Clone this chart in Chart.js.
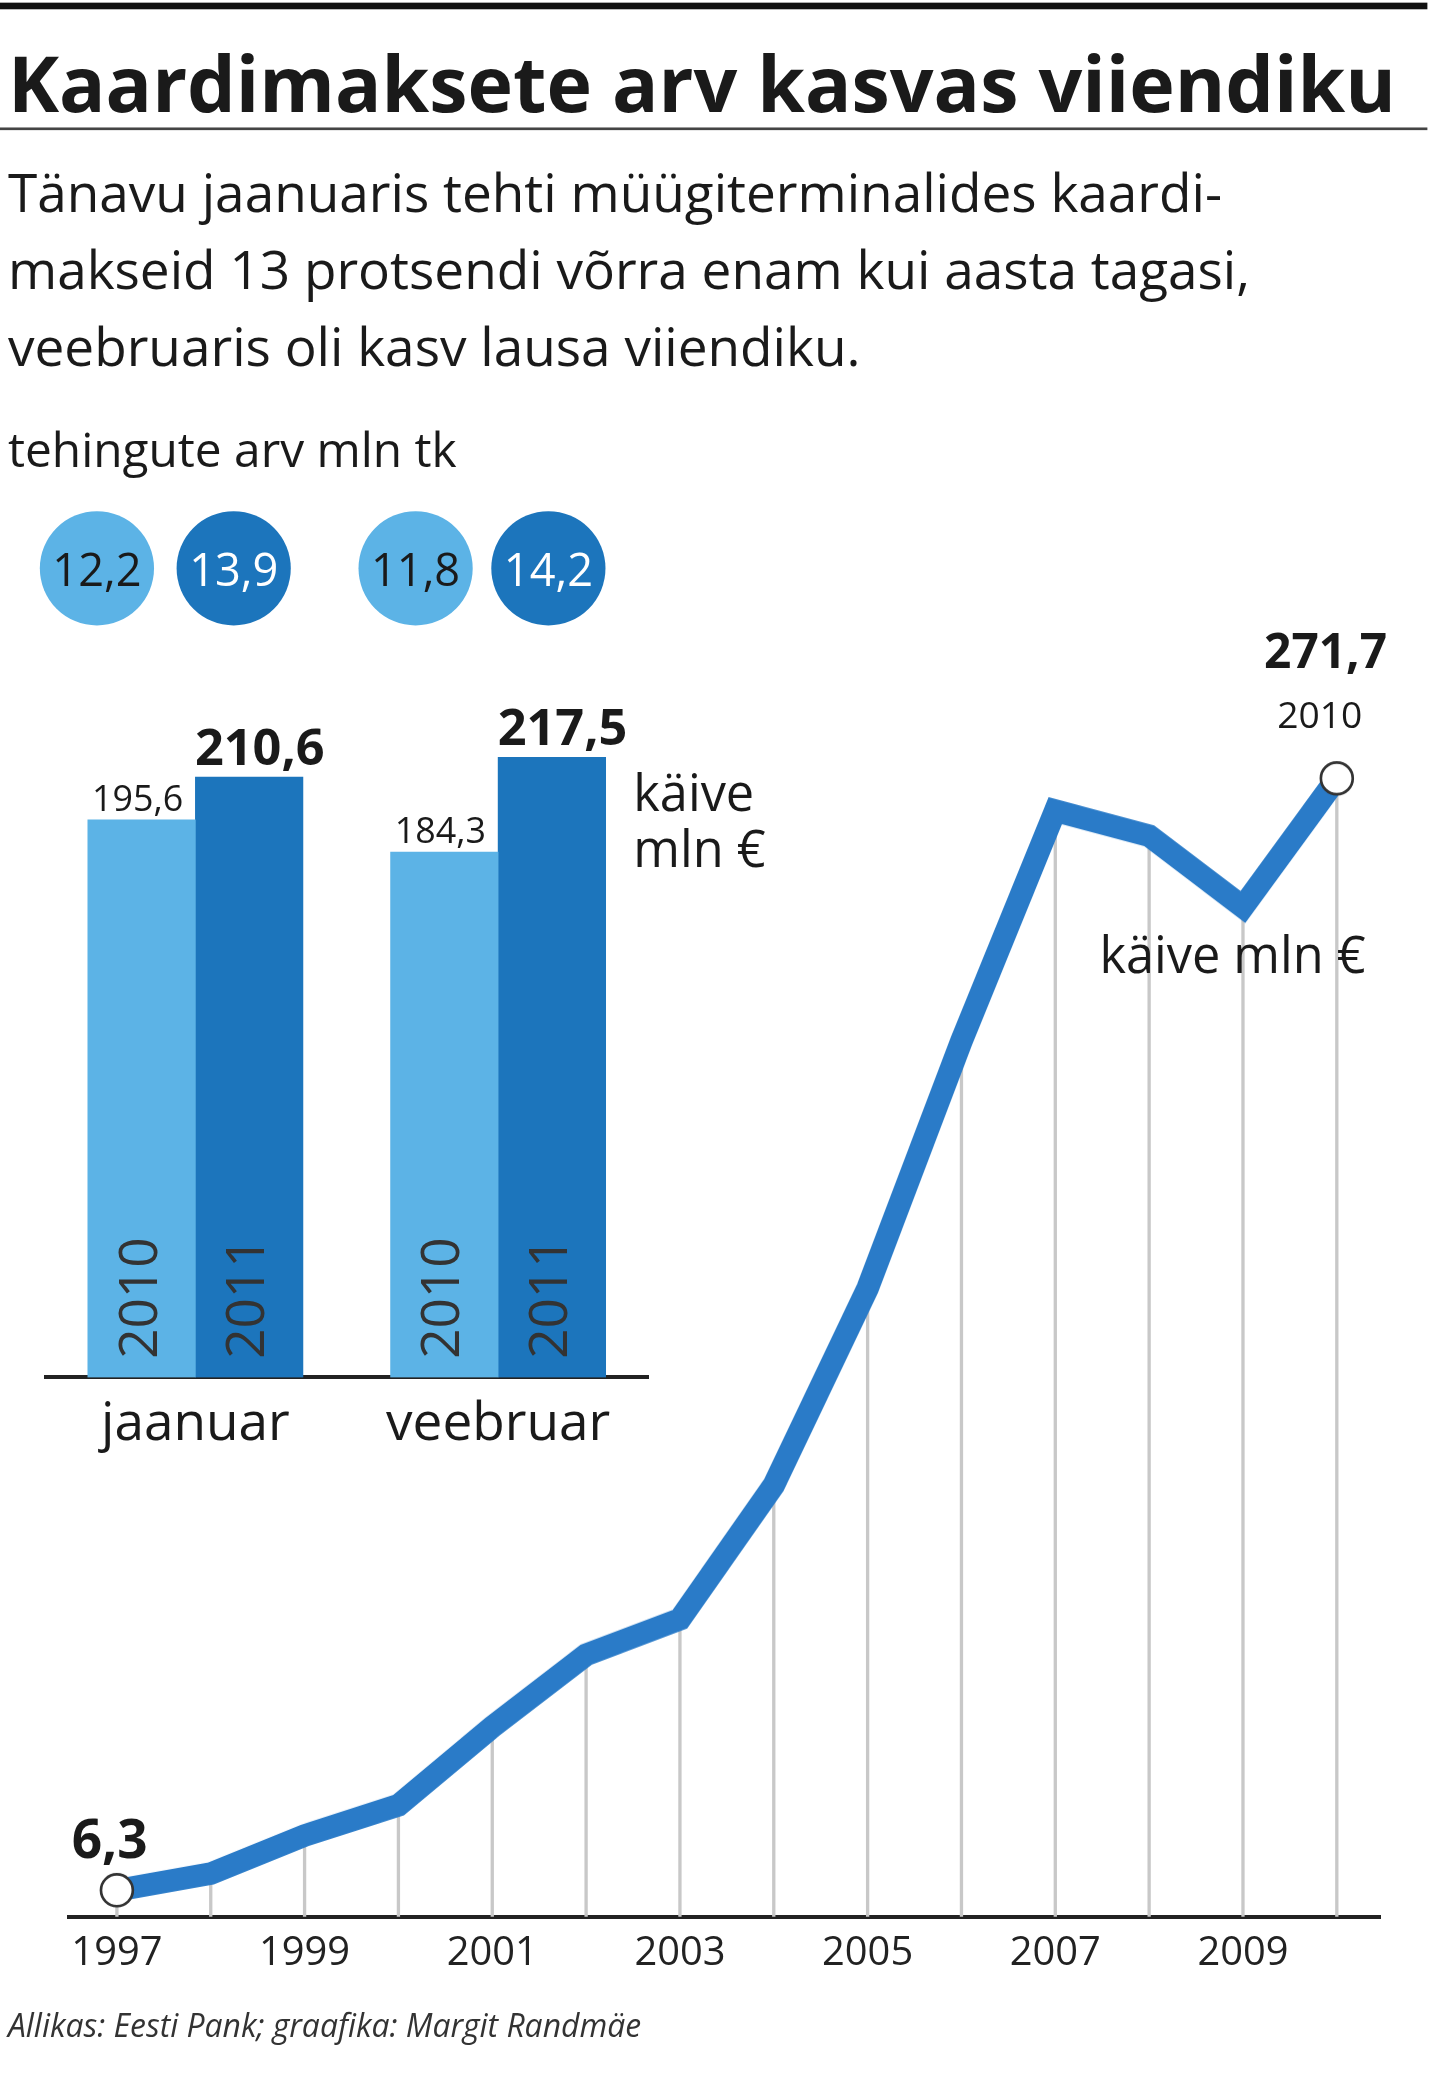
<!DOCTYPE html>
<html><head><meta charset="utf-8">
<script src="https://cdn.jsdelivr.net/npm/chart.js@4"></script>
<style>
  body { margin:0; background:#fff; position:relative; width:1442px; height:2083px; overflow:hidden; }
  #wrap { position:absolute; left:0; top:0; width:1086px; height:1569px; transform:scale(1.3278); transform-origin:0 0;
          font-family:"Liberation Sans Narrow","Open Sans",sans-serif; color:#1a1a1a; }
  .t { position:absolute; white-space:nowrap; }
  .c { position:absolute; border-radius:50%; width:86px; height:86px; display:flex; align-items:center;
       justify-content:center; font-size:34px; }
  .box { position:absolute; }
</style></head>
<body>
<div class="box" id="lineBox"><canvas id="lineChart"></canvas></div>
<div class="box" id="barBox"><canvas id="barChart"></canvas></div>
<div id="wrap">
  <div style="position:absolute;left:0;top:2px;width:1075px;height:5px;background:#111"></div>
  <div class="t" style="left:6px;top:22px;font-size:58px;font-weight:bold;">Kaardimaksete arv kasvas viiendiku</div>
  <div style="position:absolute;left:0;top:96px;width:1075px;height:2px;background:#444"></div>
  <div class="t" style="left:6px;top:116px;font-size:40px;line-height:58px;">Tänavu jaanuaris tehti müügiterminalides kaardi-<br>makseid 13 protsendi võrra enam kui aasta tagasi,<br>veebruaris oli kasv lausa viiendiku.</div>
  <div class="t" style="left:6px;top:314px;font-size:36px;">tehingute arv mln tk</div>
  <div class="c" style="left:30px;top:385px;background:#5cb3e6;">12,2</div>
  <div class="c" style="left:133px;top:385px;background:#1c75bc;color:#fff;">13,9</div>
  <div class="c" style="left:270px;top:385px;background:#5cb3e6;">11,8</div>
  <div class="c" style="left:370px;top:385px;background:#1c75bc;color:#fff;">14,2</div>

  <div class="t" style="left:477px;top:575px;font-size:38px;line-height:42px;">käive<br>mln €</div>
  <div class="t" style="left:54px;top:1356px;font-size:40px;font-weight:bold;">6,3</div>
  <div class="t" style="left:952px;top:465px;font-size:36px;font-weight:bold;">271,7</div>
  <div class="t" style="left:962px;top:518px;font-size:28px;">2010</div>
  <div class="t" style="left:828px;top:692px;font-size:38px;">käive mln €</div>
  <div class="t" style="left:6px;top:1508px;font-size:24px;font-style:italic;color:#333;">Allikas: Eesti Pank; graafika: Margit Randmäe</div>
</div>
<script>
// ── Data ──────────────────────────────────────
const YEARS    = [1997,1998,1999,2000,2001,2002,2003,2004,2005,2006,2007,2008,2009,2010];
const TURNOVER = [6.3,10.3,19.4,26.6,45.3,62.5,71,103,150,209,264,258,241,271.7];

const MONTHS   = ['jaanuar','veebruar'];
const BAR_2010 = [195.6,184.3];
const BAR_2011 = [210.6,217.5];

const LIGHT = '#5cb3e6', DARK = '#1c75bc', LINE = '#2a7bc8';
const FONT  = '"Liberation Sans Narrow","Open Sans",sans-serif';
const S = 1442 / 1086;   // layout is measured in reference units, scaled to the page

function placeBox(id, l, t, w, h) {
  const b = document.getElementById(id);
  b.style.left = (l * S) + 'px'; b.style.top = (t * S) + 'px';
  b.style.width = (w * S) + 'px'; b.style.height = (h * S) + 'px';
}

// ── Line chart ────────────────────────────────
placeBox('lineBox', 0, 480, 1086, 1020);
const lastIdx = YEARS.length - 1;
const pts = YEARS.map((y, i) => ({ x: y, y: TURNOVER[i] }));
new Chart(document.getElementById('lineChart'), {
  data: {
    datasets: [
      { type: 'bar', data: pts, backgroundColor: '#c8c8c8', barThickness: 2 * S, order: 2 },
      { type: 'line', data: pts,
        borderColor: LINE, borderWidth: 17 * S, borderJoinStyle: 'miter', tension: 0,
        pointRadius: YEARS.map((y, i) => (i === 0 || i === lastIdx) ? 12 * S : 0),
        pointBackgroundColor: '#fff', pointBorderColor: '#333', pointBorderWidth: 2 * S, order: 1 }
    ]
  },
  options: {
    responsive: true, maintainAspectRatio: false, animation: false,
    layout: { padding: { left: 52 * S, right: 46 * S, top: 0, bottom: 0 } },
    plugins: { legend: { display: false }, tooltip: { enabled: false } },
    scales: {
      x: { type: 'linear', min: 1996.49, max: 2010.47, offset: false,
           afterFit: s => { s.height = 57 * S; },
           afterBuildTicks: s => { s.ticks = YEARS.filter(y => y % 2 === 1).map(v => ({ value: v })); },
           grid: { display: false },
           border: { color: '#222', width: 3 * S },
           ticks: { color: '#222', font: { family: FONT, size: 30 * S }, padding: 4 * S,
                    callback: v => String(v) } },
      y: { display: false, min: 0, max: 301 }
    }
  }
});

// ── Bar chart ─────────────────────────────────
const barLabels = {
  id: 'barLabels',
  afterDatasetsDraw(chart) {
    const ctx = chart.ctx;
    ctx.save();
    chart.data.datasets.forEach((ds, di) => {
      chart.getDatasetMeta(di).data.forEach((bar, i) => {
        const v = ds.data[i];
        ctx.fillStyle = '#1a1a1a';
        ctx.textAlign = 'center'; ctx.textBaseline = 'bottom';
        ctx.font = di === 1 ? `bold ${38 * S}px ${FONT}` : `${27 * S}px ${FONT}`;
        ctx.fillText(v.toFixed(1).replace('.', ','), bar.x + (di === 1 ? 8 : -3) * S, bar.y - S);
        ctx.save();
        ctx.translate(bar.x, chart.chartArea.bottom - 14 * S);
        ctx.rotate(-Math.PI / 2);
        ctx.textAlign = 'left'; ctx.textBaseline = 'middle';
        ctx.font = `${40 * S}px ${FONT}`; ctx.fillStyle = '#333';
        ctx.fillText(ds.label, 0, 0);
        ctx.restore();
      });
    });
    ctx.restore();
  }
};

placeBox('barBox', 33, 450, 456, 650);
new Chart(document.getElementById('barChart'), {
  type: 'bar',
  data: {
    labels: MONTHS,
    datasets: [
      { label: '2010', data: BAR_2010, backgroundColor: LIGHT, barThickness: 81 * S },
      { label: '2011', data: BAR_2011, backgroundColor: DARK,  barThickness: 81 * S }
    ]
  },
  options: {
    responsive: true, maintainAspectRatio: false, animation: false,
    categoryPercentage: 0.8,
    layout: { padding: 0 },
    plugins: { legend: { display: false }, tooltip: { enabled: false } },
    scales: {
      x: { grid: { display: false }, border: { color: '#222', width: 3 * S },
           afterFit: s => { s.height = 63 * S; },
           ticks: { color: '#1a1a1a', font: { family: FONT, size: 40 * S }, padding: 6 * S } },
      y: { display: false, min: 0, max: 273.4 }
    }
  },
  plugins: [barLabels]
});
</script>
</body></html>
